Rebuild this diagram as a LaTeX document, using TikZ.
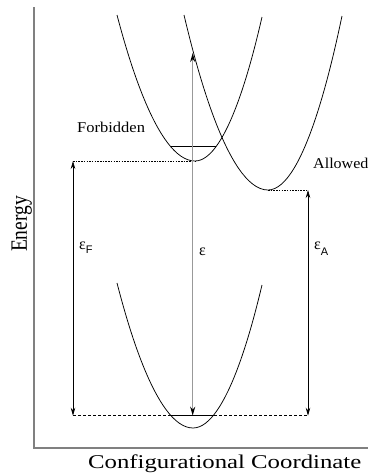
\documentclass[tikz,border=0pt]{standalone}
\usepackage{fontspec}
\setmainfont{Liberation Serif}
\newfontfamily\sanssub{Liberation Sans}
\usetikzlibrary{arrows.meta}
\begin{document}
\begin{tikzpicture}[x=1pt,y=-1pt,
  curve/.style={line width=0.75pt},
  level/.style={line width=0.9pt},
  axisline/.style={line width=1.8pt, black!50},
  guide/.style={line width=0.6pt, dash pattern=on 1.5pt off 1.2pt},
  guidedash/.style={line width=0.6pt, dash pattern=on 3pt off 2pt},
  dimarrow/.style={line width=0.7pt, {Stealth[length=8pt,width=4.5pt]}-{Stealth[length=8pt,width=4.5pt]}},
  mainarrow/.style={line width=1.5pt, black!40, {Stealth[length=9pt,width=5pt,color=black]}-{Stealth[length=9pt,width=5pt,color=black]}},
  lbl/.style={inner sep=0pt, font=\fontsize{15}{18}\selectfont},
  axlbl/.style={inner sep=0pt, font=\fontsize{19.5}{22}\selectfont},
  epslbl/.style={inner sep=0pt, anchor=base west, font=\fontsize{16}{18}\selectfont},
]
\fill[white] (0,0) rectangle (368,475);
\useasboundingbox (0,0) rectangle (368,475);

% axes
\coordinate (axtop) at (34,7);
\coordinate (origin) at (34,448);
\coordinate (axright) at (368,448);
\draw[axisline] (axtop) -- (origin) -- (axright);

% potential curves
\coordinate (Fmin) at (195,161);
\coordinate (Amin) at (268,190);
\coordinate (Gmin) at (193,428);
\draw[curve] (117,15) parabola bend (Fmin) (262,17);
\draw[curve] (184,15) parabola bend (Amin) (342,16);
\draw[curve] (117,283) parabola bend (Gmin) (262,285);

% vibrational levels
\coordinate (upL) at (170.6,146.7);
\coordinate (upR) at (216,146.7);
\coordinate (lowL) at (170.9,415.7);
\coordinate (lowR) at (214,415.7);
\draw[level] (upL) -- (upR);
\draw[level] (lowL) -- (lowR);

% arrow end points
\coordinate (Ftop) at (73,161);
\coordinate (Fbot) at (73,415.7);
\coordinate (Etop) at (192.7,53);
\coordinate (Ebot) at (192.7,415.7);
\coordinate (Atop) at (308,190);
\coordinate (Abot) at (308,415.7);

% guide lines
\draw[guide] (Ftop) -- (Fmin);
\draw[guide] (Amin) -- (Atop);
\draw[guidedash] (Fbot) -- (lowL);
\draw[guidedash] (lowR) -- (Abot);

% arrows
\draw[dimarrow] (Fbot) -- (Ftop);
\draw[dimarrow] (Abot) -- (Atop);
\draw[mainarrow] (Ebot) -- (Etop);

% labels
\node[lbl, anchor=base west] (forb) at (77,132) {\scalebox{1.1}[1]{Forbidden}};
\node[lbl, anchor=base west] (allow) at (313,168) {\scalebox{1.07}[1]{Allowed}};
\node[axlbl, anchor=base west] (xlab) at (88,468) {\scalebox{1.27}[1]{Configurational Coordinate}};
\node[axlbl, rotate=90, anchor=base] (ylab) at (27,224) {\scalebox{1}[1.2]{Energy}};
\node[epslbl] (epsF) at (79,249) {ε\raisebox{-4pt}{\sanssub\fontsize{11}{12}\selectfont F}};
\node[epslbl] (epsC) at (199,255) {ε};
\node[epslbl] (epsA) at (314,249) {ε\raisebox{-6pt}{\sanssub\fontsize{11}{12}\selectfont A}};
\end{tikzpicture}
\end{document}
